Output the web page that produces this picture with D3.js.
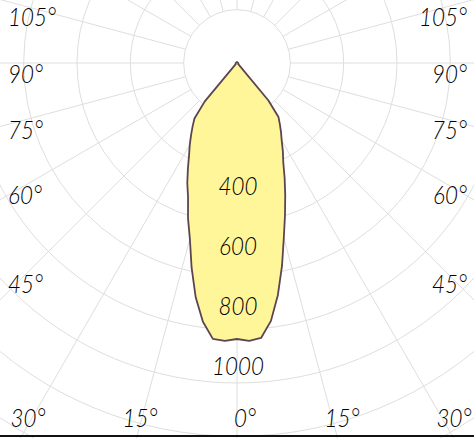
<!DOCTYPE html>
<html>
<head>
<meta charset="utf-8">
<script src="https://cdn.jsdelivr.net/npm/d3@7"></script>
<style>
  html, body { margin: 0; padding: 0; background: #fff; }
  svg { display: block; }
  text { font-family: Lato, "Open Sans", sans-serif; font-style: italic; font-weight: 300; fill: #000; }
</style>
</head>
<body>
<div id="chart"></div>
<script>
// gamma angles (deg from nadir) and intensities (cd) for both half planes
const gammas = [0, 2.5, 5, 7.5, 10, 12.5, 15, 17.5, 20, 22.5, 25, 27.5, 30, 32.5, 35, 37.5, 40, 45, 50, 60, 75, 90, 105, 120, 135, 150, 165, 180];
const c0 = [920, 927, 920, 867, 785, 693, 603, 532, 470, 415, 365, 331, 298, 273, 249, 227, 163, 8, 5, 5, 5, 4, 3, 3, 3, 3, 3, 3];
const c180 = [920, 927, 923, 870, 793, 699, 607, 543, 477, 433, 387, 346, 315, 285, 258, 233, 167, 8, 5, 5, 5, 4, 3, 3, 3, 3, 3, 3];

// tick labels
const valueTicks = [400, 600, 800, 1000];
const angleTicks = [0, 15, 30, 45, 60, 75, 90, 105];

const width = 474;
const height = 438;
const centre = { x: 237, y: 63 };

// radius scale, px per cd
const rScale = d3.scaleLinear().domain([0, 1000]).range([0, 300]);
const ringStep = 160 / 3;
const rad = d => d * Math.PI / 180;

const svg = d3.select('#chart')
    .append('svg')
    .attr('width', width)
    .attr('height', height);

const g = svg.append('g')
    .attr('transform', `translate(${centre.x},${centre.y})`);

// grid rings
g.selectAll('.ring')
    .data(d3.range(1, 10))
    .enter()
    .append('circle')
    .attr('r', k => k * ringStep)
    .attr('fill', 'none')
    .attr('stroke', '#dedede')
    .attr('stroke-width', 1);

// grid rays every 15 deg, starting on the first ring
g.selectAll('.ray')
    .data(d3.range(0, 360, 15))
    .enter()
    .append('line')
    .attr('x1', a => ringStep * Math.sin(rad(a)))
    .attr('y1', a => ringStep * Math.cos(rad(a)))
    .attr('x2', a => 700 * Math.sin(rad(a)))
    .attr('y2', a => 700 * Math.cos(rad(a)))
    .attr('stroke', '#dedede')
    .attr('stroke-width', 1);

// build the closed curve: right half (C0) going up, left half (C180) coming back down
const pts = gammas.map((gm, i) => [Math.PI - rad(gm), rScale(c0[i])])
    .concat(gammas.slice().reverse().map((gm, j) => {
        const i = gammas.length - 1 - j;
        return [Math.PI + rad(gm), rScale(c180[i])];
    }));

const line = d3.lineRadial()
    .angle(d => d[0])
    .radius(d => d[1])
    .curve(d3.curveLinearClosed);

g.append('path')
    .attr('d', line(pts))
    .attr('fill', '#fff599')
    .attr('stroke', '#5b4552')
    .attr('stroke-width', 1.8)
    .attr('stroke-linejoin', 'round');

// intensity labels down the 0 deg axis
g.selectAll('.vlabel')
    .data(valueTicks)
    .enter()
    .append('text')
    .attr('text-anchor', 'middle')
    .attr('font-size', 26)
    .attr('transform', v => `translate(1,${rScale(v) + 11.5}) scale(0.86,1)`)
    .text(v => v);

// angle labels, placed where each ray leaves the frame
const labels = [];
angleTicks.forEach(a => {
    [-1, 1].forEach(s => {
        if (a === 0 && s < 0) return;
        const sinA = Math.sin(rad(a)), cosA = Math.cos(rad(a));
        const ySide = sinA > 0 ? 210 * cosA / sinA : Infinity;
        if (ySide <= 240) {
            labels.push({ a, x: s < 0 ? 8 - centre.x : 467 - centre.x, y: ySide + 19.5, anchor: s < 0 ? 'start' : 'end' });
        } else {
            const xb = s * (425 - centre.y) * Math.tan(rad(a));
            labels.push({ a, x: s < 0 ? xb : xb + 8, y: 427 - centre.y, anchor: 'middle' });
        }
    });
});

g.selectAll('.alabel')
    .data(labels)
    .enter()
    .append('text')
    .attr('text-anchor', d => d.anchor)
    .attr('font-size', 26)
    .attr('transform', d => `translate(${d.x},${d.y}) scale(0.86,1)`)
    .text(d => d.a + '°');

// frame line at the bottom
svg.append('line')
    .attr('x1', 0).attr('x2', width)
    .attr('y1', 436).attr('y2', 436)
    .attr('stroke', '#111')
    .attr('stroke-width', 2);
</script>
</body>
</html>
